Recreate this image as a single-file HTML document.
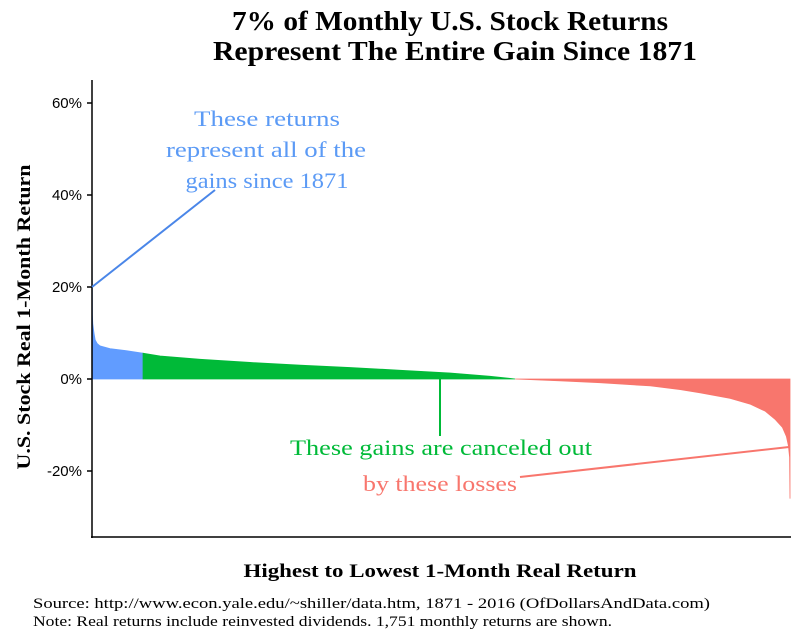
<!DOCTYPE html>
<html><head><meta charset="utf-8"><style>
body{margin:0;background:#fff;}
svg{display:block;font-family:"Liberation Serif",serif;}
</style></head><body>
<svg id="chart" width="800" height="640" viewBox="0 0 800 640">
<text x="450" y="30" text-anchor="middle" font-size="27" font-weight="bold" textLength="436" lengthAdjust="spacingAndGlyphs">7% of Monthly U.S. Stock Returns</text>
<text x="455" y="60" text-anchor="middle" font-size="27" font-weight="bold" textLength="484" lengthAdjust="spacingAndGlyphs">Represent The Entire Gain Since 1871</text>
<g id="plot"></g>
<g id="yticks"></g>
<line x1="92" y1="80" x2="92" y2="538" stroke="#000" stroke-width="1.5"/>
<line x1="91" y1="537" x2="791" y2="537" stroke="#000" stroke-width="1.5"/>
<text transform="translate(30,317) rotate(-90)" text-anchor="middle" font-size="19" font-weight="bold" textLength="305" lengthAdjust="spacingAndGlyphs">U.S. Stock Real 1-Month Return</text>
<text x="440" y="577" text-anchor="middle" font-size="19" font-weight="bold" textLength="393" lengthAdjust="spacingAndGlyphs">Highest to Lowest 1-Month Real Return</text>
<g fill="#5b9af5" font-size="22" text-anchor="middle" lengthAdjust="spacingAndGlyphs">
<text x="267" y="126" textLength="146" lengthAdjust="spacingAndGlyphs">These returns</text>
<text x="266" y="157" textLength="200" lengthAdjust="spacingAndGlyphs">represent all of the</text>
<text x="267" y="188" textLength="163" lengthAdjust="spacingAndGlyphs">gains since 1871</text>
</g>
<line x1="92" y1="287" x2="215" y2="190" stroke="#4a86e8" stroke-width="2"/>
<line x1="440" y1="379" x2="440" y2="436" stroke="#00ba38" stroke-width="2"/>
<text x="441" y="455" text-anchor="middle" font-size="22" fill="#00ba38" textLength="302" lengthAdjust="spacingAndGlyphs">These gains are canceled out</text>
<text x="440" y="491" text-anchor="middle" font-size="22" fill="#f8766d" textLength="154" lengthAdjust="spacingAndGlyphs">by these losses</text>
<line x1="520" y1="477" x2="789" y2="447" stroke="#f8766d" stroke-width="2"/>
<text x="33" y="608" font-size="15" textLength="677" lengthAdjust="spacingAndGlyphs">Source:  http://www.econ.yale.edu/~shiller/data.htm, 1871 - 2016 (OfDollarsAndData.com)</text>
<text x="33" y="626" font-size="15" textLength="579" lengthAdjust="spacingAndGlyphs">Note:  Real returns include reinvested dividends.  1,751 monthly returns are shown.</text>
</svg>
<script>
const ranks=[0,1,2,5,8,13,20,45,83,128,171,271,396,522,647,773,898,998,1061,1174,1274,1400,1475,1525,1600,1651,1688,1713,1731,1741,1746,1749,1750];
const returns=[30,14,12,10,8.5,7.7,7.2,6.6,6.2,5.6,5.0,4.3,3.6,3.0,2.5,1.9,1.3,0.6,0,-0.4,-0.8,-1.5,-2.3,-3.0,-4.2,-5.5,-7.0,-8.8,-10.5,-12.5,-14.5,-17,-26];
const yTicks=[60,40,20,0,-20];
const yTickLabels=["60%","40%","20%","0%","-20%"];
const nTotal=1751, blueEnd=128, greenEnd=1061;
const X=i=>92+i/(nTotal-1)*698;
const Y=v=>379-v*4.6;
const ns="http://www.w3.org/2000/svg";
const plot=document.getElementById('plot');
function area(from,to,color,name){
  let pts=[];
  for(let k=0;k<ranks.length;k++){ if(ranks[k]>=from&&ranks[k]<=to) pts.push(X(ranks[k]).toFixed(2)+','+Y(returns[k]).toFixed(2)); }
  pts.unshift(X(from)+','+Y(0)); pts.push(X(to)+','+Y(0));
  const p=document.createElementNS(ns,'polygon');
  p.setAttribute('points',pts.join(' '));
  p.setAttribute('fill',color);p.setAttribute('stroke',color);p.setAttribute('stroke-width','0.8');
  
  
  plot.appendChild(p);
}
area(0,blueEnd,'#619cff','blue-area');
area(blueEnd,greenEnd,'#00ba38','green-area');
area(greenEnd,ranks[ranks.length-1],'#f8766d','red-area');
const yg=document.getElementById('yticks');
yTicks.forEach((t,i)=>{
  const l=document.createElementNS(ns,'line');
  l.setAttribute('x1',87);l.setAttribute('x2',92);l.setAttribute('y1',Y(t));l.setAttribute('y2',Y(t));l.setAttribute('stroke','#000');l.setAttribute('stroke-width','1.5');
  
  
  yg.appendChild(l);
  const tx=document.createElementNS(ns,'text');
  tx.setAttribute('x',82);tx.setAttribute('y',Y(t)+5);tx.setAttribute('text-anchor','end');tx.setAttribute('font-size','15');
  tx.setAttribute('font-family','Liberation Sans, sans-serif');
  tx.textContent=yTickLabels[i];
  
  
  yg.appendChild(tx);
});
</script>
</body></html>
